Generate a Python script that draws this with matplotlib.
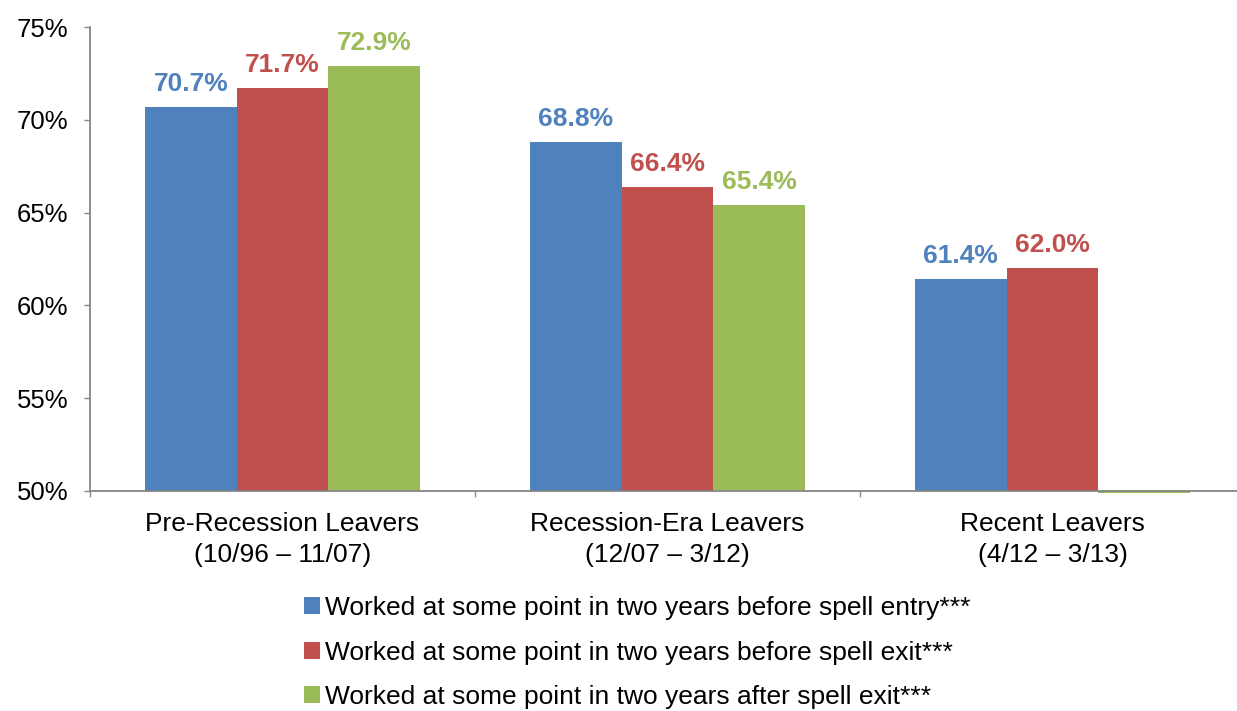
"""Employment before/after spell, grouped bar chart"""

import numpy as np
import matplotlib.pyplot as plt
import matplotlib as mpl
from matplotlib.patches import Patch

mpl.rcParams['font.family'] = ['Liberation Sans', 'DejaVu Sans']

# data
groups = ['Pre-Recession Leavers\n(10/96 \u2013 11/07)',
          'Recession-Era Leavers\n(12/07 \u2013 3/12)',
          'Recent Leavers\n(4/12 \u2013 3/13)']
series = ['Worked at some point in two years before spell entry***',
          'Worked at some point in two years before spell exit***',
          'Worked at some point in two years after spell exit***']
before_entry = [70.7, 68.8, 61.4]
before_exit = [71.7, 66.4, 62.0]
after_exit = [72.9, 65.4, 0.0]   # no value for recent leavers
yticks = [50, 55, 60, 65, 70, 75]

colors = ['#4F81BD', '#C0504D', '#9BBB59']
axis_color = '#868686'
base = 50

fig = plt.figure(figsize=(12.37, 7.11), dpi=100)
ax = fig.add_axes([90/1237, 1 - 491/711, 1155/1237, 464/711])

x = np.arange(len(groups))
width = 0.238
for i, (vals, col) in enumerate(zip([before_entry, before_exit, after_exit], colors)):
    pos = x + (i - 1) * width
    heights = [max(v, base - 0.12) - base for v in vals]
    ax.bar(pos, heights, width, bottom=base, color=col, clip_on=False, zorder=2)
    for p, v in zip(pos, vals):
        if v >= base:
            ax.annotate(f'{v:.1f}%', (p, v), xytext=(0, 8), textcoords='offset points',
                        ha='center', va='bottom', color=col, fontsize=19,
                        fontweight='bold')

ax.set_xlim(-0.5, len(groups) - 0.5)
ax.set_ylim(base, 75)
ax.set_yticks(yticks)
ax.set_yticklabels([f'{t}%' for t in yticks])
ax.tick_params(axis='y', direction='out', length=4.5, width=1, color=axis_color,
               labelsize=18.5, pad=11)

# category ticks sit between groups
ax.set_xticks(np.arange(len(groups) + 1) - 0.5)
ax.set_xticklabels([])
ax.set_xticks(x, minor=True)
ax.set_xticklabels(groups, minor=True, fontsize=19, linespacing=1.4)
ax.tick_params(axis='x', which='major', direction='out', length=4.5, width=1,
               color=axis_color)
ax.tick_params(axis='x', which='minor', length=0, pad=15)

for s in ['top', 'right']:
    ax.spines[s].set_visible(False)
for s in ['left', 'bottom']:
    ax.spines[s].set_color(axis_color)
    ax.spines[s].set_linewidth(1.3)

handles = [Patch(facecolor=c) for c in colors]
fig.legend(handles, series, loc='upper left', bbox_to_anchor=(304/1237, 1 - 596/711),
           frameon=False, fontsize=19, handlelength=0.6, handleheight=0.6,
           handletextpad=0.2, labelspacing=0.78, borderpad=0, borderaxespad=0)

fig.savefig('out.png', dpi=100)
